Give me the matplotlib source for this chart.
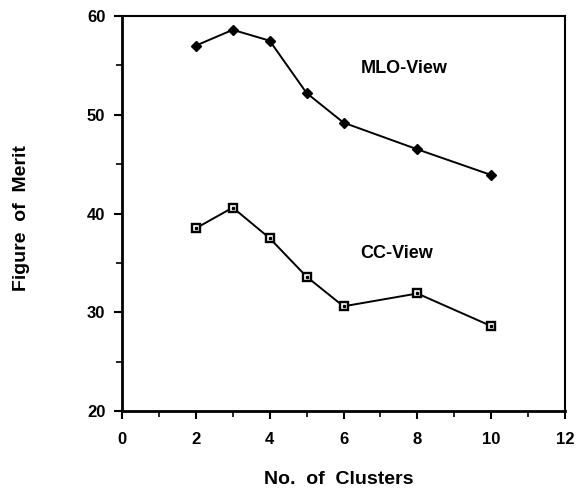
import numpy as np
import matplotlib.pyplot as plt
from matplotlib.ticker import MultipleLocator

plt.rcParams['font.family'] = ['Liberation Sans', 'DejaVu Sans']

clusters = [2, 3, 4, 5, 6, 8, 10]
mlo = [57.0, 58.6, 57.5, 52.2, 49.2, 46.5, 43.9]  # MLO-View
cc = [38.5, 40.6, 37.5, 33.6, 30.6, 31.9, 28.6]  # CC-View

fig = plt.figure(figsize=(5.76, 4.92), dpi=100)
ax = fig.add_axes([122/576, 1-411/492, 443/576, 395/492])

ax.plot(clusters, mlo, color="black", lw=1.4, marker="D", ms=5.5, mfc="black")
ax.plot(clusters, cc, color="black", lw=1.4, marker="s", ms=6, mfc="white",
        mew=1.7)
# 点の中の小さな点
ax.plot(clusters, cc, ls="none", marker="s", ms=1.5, color="black")

ax.text(7.64, 54.7, "MLO-View", fontsize=13, fontweight="bold", ha="center",
        va="center")
ax.text(7.45, 35.9, "CC-View", fontsize=13, fontweight="bold", ha="center",
        va="center")

ax.set_xlim(0, 12)
ax.set_ylim(20, 60)
ax.xaxis.set_major_locator(MultipleLocator(2))
ax.xaxis.set_minor_locator(MultipleLocator(1))
ax.yaxis.set_major_locator(MultipleLocator(10))
ax.yaxis.set_minor_locator(MultipleLocator(5))
ax.tick_params(which="major", length=6, width=1.5, labelsize=12)
ax.tick_params(which="minor", length=4, width=1.2)
ax.tick_params(axis="x", which="major", pad=9)
ax.tick_params(axis="y", which="major", pad=6)
for lab in ax.get_xticklabels() + ax.get_yticklabels():
    lab.set_fontweight("bold")
ax.spines["left"].set_linewidth(2)
ax.spines["bottom"].set_linewidth(2)
ax.spines["top"].set_linewidth(1.5)
ax.spines["right"].set_linewidth(1.5)

fig.text(22/576, 1-218/492, "Figure  of  Merit", rotation=90, fontsize=14,
         fontweight="bold", ha="center", va="center")
fig.text(339/576, 1-480/492, "No.  of  Clusters", fontsize=14,
         fontweight="bold", ha="center", va="center")

plt.savefig("out.png")
